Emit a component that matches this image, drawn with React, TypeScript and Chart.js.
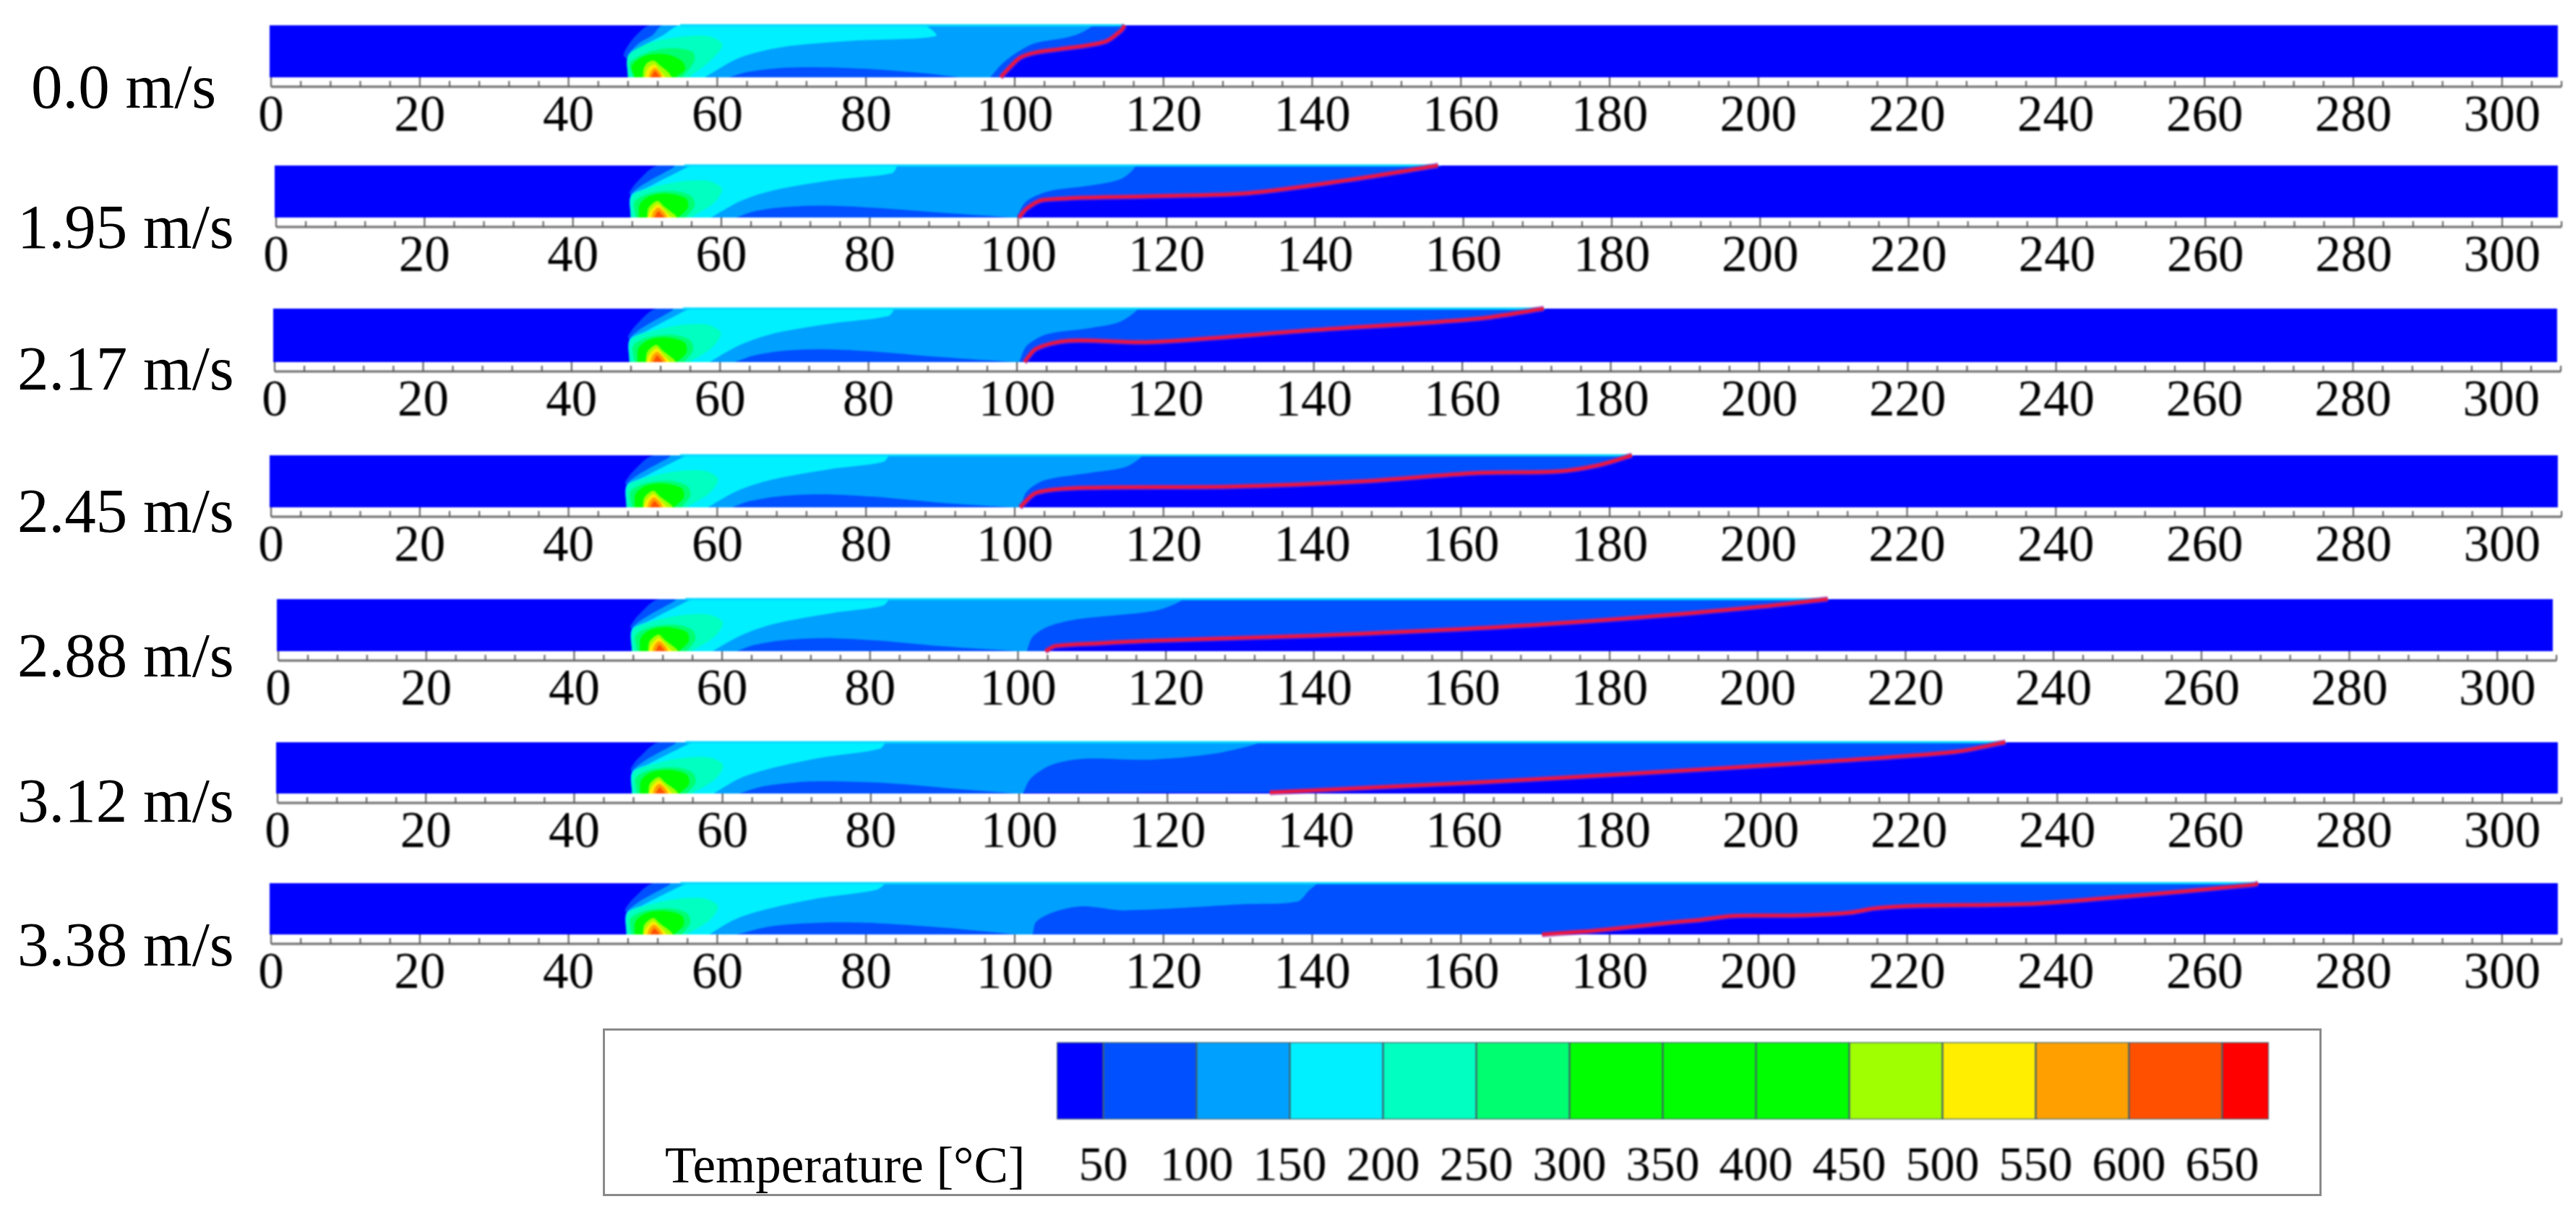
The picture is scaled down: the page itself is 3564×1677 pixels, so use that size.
import React, { useEffect, useRef } from "react";
import { Chart, registerables } from "chart.js";

Chart.register(...registerables);

type P = [number, number];

const speedLabels = ["0.0 m/s", "1.95 m/s", "2.17 m/s", "2.45 m/s", "2.88 m/s", "3.12 m/s", "3.38 m/s"];
const xTickLabels = [0, 20, 40, 60, 80, 100, 120, 140, 160, 180, 200, 220, 240, 260, 280, 300];
const xMinorStep = 4;
const xEnd = 308;
const fieldEnd = 307.5;

const colorBlue0 = "#0000ff";
const colorBlue1 = "#0050ff";
const colorBlue2 = "#00a0ff";
const colorCyan = "#00f0ff";
const colorTeal = "#00ffc0";
const colorMint = "#00ff70";
const colorGreen = "#00ff00";
const colorLime = "#a0ff00";
const colorYellow = "#ffee00";
const colorOrange = "#ffa000";
const colorDeep = "#ff5000";
const colorRed = "#ff0000";

// --- 0.0 m/s contours
const calmBand50: P[] = [[48, 0], [48, 0.33], [47.4, 0.42], [48, 0.61], [49.1, 0.81], [51, 1]];
const calmBand100: P[] = [[48, 0], [48, 0.4], [49.4, 0.65], [51.3, 0.81], [52.7, 1]];
const calmBand150: P[] = [[48, 0], [48, 0.42], [49.9, 0.6], [52.7, 0.81], [55, 1]];
const calmTeal: P[] = [[48, 0], [48, 0.4], [50.3, 0.63], [54.6, 0.77], [58.8, 0.79], [60.7, 0.63], [59.3, 0.35], [56.2, 0]];
const calmMint: P[] = [[48.7, 0], [48.2, 0.26], [49.1, 0.375], [51.3, 0.51], [54.1, 0.56], [56.7, 0.49], [56.9, 0.31], [55.3, 0]];
const calmGreen: P[] = [[48.9, 0], [48.5, 0.21], [49.4, 0.35], [51, 0.44], [53.2, 0.44], [55.2, 0.32], [55.7, 0.16], [54.4, 0]];
const calmLime: P[] = [[50, 0], [50.1, 0.16], [50.6, 0.28], [51.5, 0.32], [52.3, 0.23], [53.4, 0.1], [53.9, 0]];
const calmYellow: P[] = [[50.3, 0], [50.6, 0.16], [51.5, 0.25], [52.1, 0.16], [53.1, 0]];
const calmOrange: P[] = [[50.8, 0], [51, 0.1], [51.6, 0.18], [52.3, 0.1], [52.6, 0]];
const calmDeep: P[] = [[51.1, 0], [51.6, 0.12], [52.1, 0.05], [52.3, 0]];

// --- contours near the source shared by the panels with flow
const flowBand50: P[] = [[47.8, 0], [47.8, 0.415], [47.6, 0.48], [48.8, 0.71], [51.6, 1]];
const flowBand100: P[] = [[47.8, 0], [47.8, 0.415], [49.3, 0.62], [53.5, 0.96], [53.8, 1]];
const flowBand150: P[] = [[47.8, 0], [47.8, 0.415], [50, 0.575], [53.5, 0.83], [56.4, 1]];
const flowTeal: P[] = [[47.8, 0], [48, 0.415], [50.7, 0.575], [54.5, 0.69], [58.3, 0.7], [60.1, 0.55], [59, 0.28], [55.9, 0]];
const flowMint: P[] = [[48.5, 0], [48.3, 0.3], [50.2, 0.46], [53.5, 0.51], [55.9, 0.415], [56.4, 0.23], [55.2, 0]];
const flowGreen: P[] = [[48.9, 0], [49, 0.255], [50.4, 0.415], [52.8, 0.46], [55.2, 0.37], [55.5, 0.19], [54.2, 0]];
const flowLime: P[] = [[50, 0], [50.2, 0.19], [51.4, 0.32], [52.3, 0.21], [53.8, 0.05], [54, 0]];
const flowYellow: P[] = [[50.1, 0], [50.4, 0.12], [51.4, 0.255], [52.3, 0.14], [53.3, 0]];
const flowOrange: P[] = [[50.6, 0], [50.9, 0.12], [51.5, 0.19], [52.3, 0.1], [52.7, 0]];
const flowDeep: P[] = [[51, 0], [51.5, 0.12], [52.1, 0.04], [52.3, 0]];

// --- flame front (red line) per panel
const front0: P[] = [[98.1, 0], [99.3, 0.19], [100.7, 0.375], [102.6, 0.47], [105.9, 0.54], [109.6, 0.61], [112.4, 0.7], [114.3, 0.9], [114.8, 1]];
const front1: P[] = [[100.1, 0], [101.2, 0.18], [103.4, 0.34], [117.8, 0.41], [131, 0.47], [144.4, 0.72], [156.6, 1]];
const front2: P[] = [[101, 0], [102.6, 0.25], [106.9, 0.4], [118, 0.375], [140, 0.6], [162, 0.81], [171, 1]];
const front3: P[] = [[100.7, 0], [102.9, 0.28], [109, 0.375], [129, 0.4], [146.6, 0.5], [162, 0.66], [173, 0.69], [178.5, 0.81], [183, 1]];
const front4: P[] = [[103.7, 0], [105.1, 0.1], [110.8, 0.15], [118, 0.2], [140, 0.3], [162, 0.44], [184, 0.65], [200, 0.85], [209.5, 1]];
const front5: P[] = [[133.8, 0.02], [161.9, 0.22], [184, 0.4], [206, 0.6], [226, 0.81], [233, 1]];
const front6: P[] = [[170.9, 0], [176.3, 0.055], [179.7, 0.1], [183.7, 0.16], [187.9, 0.23], [192.4, 0.29], [196.3, 0.36], [200.2, 0.37], [204.4, 0.37], [208.6, 0.39], [212.5, 0.43], [215.7, 0.51], [221.4, 0.56], [236.9, 0.6], [250, 0.75], [266.7, 0.97], [267.2, 1]];

// --- edge of the 100-150 band per panel (bottom to top)
const edge100_0: P[] = [[96.7, 0], [98.3, 0.26], [100.2, 0.47], [102.6, 0.65], [106.3, 0.745], [108.7, 0.84], [110.3, 1]];
const edge100_1: P[] = [[99.8, 0], [101, 0.3], [104, 0.5], [110, 0.62], [114, 0.75], [115.6, 1]];
const edge100_2: P[] = [[100.3, 0], [101.3, 0.3], [104, 0.52], [110, 0.64], [114, 0.76], [116, 1]];
const edge100_3: P[] = [[100.8, 0], [101.6, 0.3], [104, 0.52], [110, 0.66], [115, 0.78], [116.9, 1]];
const edge100_4: P[] = [[101.2, 0], [102, 0.28], [104.2, 0.48], [108.4, 0.62], [118.7, 0.78], [122, 1]];
const edge100_5: P[] = [[100.5, 0], [101.6, 0.3], [104.4, 0.56], [108.8, 0.68], [117.6, 0.66], [126.5, 0.78], [132, 1]];
const edge100_6: P[] = [[102.4, 0], [102.9, 0.25], [105.5, 0.45], [109.2, 0.55], [114.8, 0.47], [131, 0.59], [138, 0.64], [139.5, 0.85], [140.5, 1]];

// --- edge of the 150-200 band per panel (bottom to top)
const edge150_0: P[] = [[58.3, 0], [63, 0.375], [68.7, 0.58], [78.1, 0.7], [89.4, 0.79], [87.7, 1]];
const edge150_1: P[] = [[58.6, 0], [62.8, 0.33], [67.6, 0.54], [75, 0.72], [83, 0.85], [83.5, 1]];
const edge150_2: P[] = [[58.6, 0], [62.7, 0.32], [67.4, 0.54], [75, 0.72], [82.7, 0.86], [83.3, 1]];
const edge150_3: P[] = [[58.7, 0], [62.6, 0.31], [67.3, 0.53], [75, 0.73], [82.3, 0.87], [82.9, 1]];
const edge150_4: P[] = [[58.7, 0], [62.5, 0.3], [67.2, 0.53], [74.8, 0.73], [81.7, 0.87], [82.4, 1]];
const edge150_5: P[] = [[58.8, 0], [62.4, 0.3], [66.5, 0.49], [73.8, 0.71], [81.2, 0.87], [81.8, 1]];
const edge150_6: P[] = [[58.9, 0], [62.3, 0.29], [66, 0.47], [73.4, 0.7], [81.4, 0.87], [82.4, 1]];

// --- low-temperature pocket under the plume per panel
const pocket0: P[] = [[61.6, 0], [64, 0.1], [68.7, 0.18], [73.4, 0.195], [80.4, 0.16], [87.5, 0.085], [92.7, 0]];
const pocket1: P[] = [[62, 0], [64.5, 0.12], [68.5, 0.2], [74, 0.23], [81.4, 0.18], [90, 0.09], [99.4, 0]];
const pocket2: P[] = [[62, 0], [64.5, 0.12], [68.5, 0.21], [74, 0.24], [81.4, 0.19], [90, 0.09], [99.6, 0]];
const pocket3: P[] = [[62, 0], [64.4, 0.12], [68.2, 0.21], [74, 0.25], [81.4, 0.2], [89.6, 0.095], [99.7, 0]];
const pocket4: P[] = [[62, 0], [64.4, 0.12], [68.2, 0.21], [73.9, 0.25], [81.4, 0.2], [89.5, 0.096], [99, 0.01], [99.7, 0]];
const pocket5: P[] = [[62.2, 0], [65.5, 0.14], [70, 0.22], [74, 0.24], [81.4, 0.21], [90, 0.11], [99.8, 0]];
const pocket6: P[] = [[62.6, 0], [67.2, 0.16], [74, 0.23], [81.5, 0.22], [90.7, 0.13], [98.7, 0.02], [100, 0]];

const legendBounds = [25, 50, 100, 150, 200, 250, 300, 350, 400, 450, 500, 550, 600, 650, 675];
const legendColors = [colorBlue0, colorBlue1, colorBlue2, colorCyan, colorTeal, colorMint, colorGreen, colorGreen, colorGreen, colorLime, colorYellow, colorOrange, colorDeep, colorRed];
const legendTicks = [50, 100, 150, 200, 250, 300, 350, 400, 450, 500, 550, 600, 650];
const legendTitle = "Temperature [°C]";

// Layout only: [left, top, bottom, axisEnd, labelBaseline, labelLeft]
const panelBoxes = [
  [373, 35, 107, 3551, 149, 43],
  [380, 229, 301, 3544, 343, 24],
  [378, 427, 501, 3543, 539, 24],
  [373, 630, 702, 3552, 736, 24],
  [383, 829, 901, 3537, 936, 24],
  [382, 1027, 1098, 3545, 1137, 24],
  [373, 1222, 1293, 3553, 1336, 24],
];

const fronts = [front0, front1, front2, front3, front4, front5, front6];
const edges100 = [edge100_0, edge100_1, edge100_2, edge100_3, edge100_4, edge100_5, edge100_6];
const edges150 = [edge150_0, edge150_1, edge150_2, edge150_3, edge150_4, edge150_5, edge150_6];
const pockets = [pocket0, pocket1, pocket2, pocket3, pocket4, pocket5, pocket6];

const SERIF = '"Liberation Serif", serif';

function area(points: P[], color: string, tension = 0.3) {
  return {
    data: points.map(([x, y]) => ({ x, y })),
    backgroundColor: color,
    borderColor: color,
    borderWidth: 0,
    fill: "shape",
    pointRadius: 0,
    tension,
  };
}

function stroke(points: P[], color: string, width: number) {
  return {
    data: points.map(([x, y]) => ({ x, y })),
    borderColor: color,
    backgroundColor: color,
    borderWidth: width,
    fill: false,
    pointRadius: 0,
    tension: 0.3,
    clip: 6,
  };
}

function panelDatasets(i: number) {
  const calm = i === 0;
  const front = fronts[i];
  const rev = (a: P[]) => [...a].reverse();
  const layers = [
    area([[-1, 0], [-1, 1], [fieldEnd, 1], [fieldEnd, 0]], colorBlue0, 0),
    area([...(calm ? calmBand50 : flowBand50), ...rev(front)], colorBlue1),
    area([...(calm ? calmBand100 : flowBand100), ...rev(edges100[i])], colorBlue2),
    area(pockets[i], colorBlue1),
    area([...(calm ? calmBand150 : flowBand150), ...rev(edges150[i])], colorCyan),
    area(calm ? calmTeal : flowTeal, colorTeal),
    area(calm ? calmMint : flowMint, colorMint),
    area(calm ? calmGreen : flowGreen, colorGreen),
    area(calm ? calmLime : flowLime, colorLime),
    area(calm ? calmYellow : flowYellow, colorYellow),
    area(calm ? calmOrange : flowOrange, colorOrange),
    area(calm ? calmDeep : flowDeep, colorDeep),
    stroke([[55, 1], [front[front.length - 1][0], 1]], "#00d8ff", 3),
    stroke(front, "rgba(150,40,170,0.65)", 8),
    stroke(front, "#f0143c", 4),
  ];
  return layers.map((d, k) => ({ ...d, order: layers.length - k }));
}

const rulerPlugin = {
  id: "ruler",
  afterDraw(chart: any) {
    const { ctx, chartArea } = chart;
    const scale = chart.scales.x;
    const line = chartArea.bottom + 13;
    ctx.save();
    ctx.strokeStyle = "#6a6a6a";
    ctx.lineWidth = 3;
    ctx.beginPath();
    ctx.moveTo(scale.getPixelForValue(0), line);
    ctx.lineTo(scale.getPixelForValue(xEnd), line);
    ctx.stroke();
    ctx.lineWidth = 2;
    ctx.strokeStyle = "#555";
    for (const t of scale.ticks) {
      const major = xTickLabels.includes(t.value);
      const px = scale.getPixelForValue(t.value);
      ctx.beginPath();
      ctx.moveTo(px, line);
      ctx.lineTo(px, major ? chartArea.bottom : line - 8);
      ctx.stroke();
    }
    ctx.restore();
  },
};

function Panel({ index }: { index: number }) {
  const ref = useRef<HTMLCanvasElement>(null);
  const [left, top, bottom, axisEnd] = panelBoxes[index];
  const padTop = 10;
  const below = 94;
  const height = bottom - top + padTop + below;
  useEffect(() => {
    const ticks: { value: number }[] = [];
    for (let v = 0; v <= xEnd; v += xMinorStep) ticks.push({ value: v });
    const chart = new Chart(ref.current as any, {
      type: "line",
      data: { datasets: panelDatasets(index) as any },
      plugins: [rulerPlugin],
      options: {
        animation: false,
        responsive: false,
        events: [],
        layout: { padding: { left, right: 3564 - axisEnd, top: padTop, bottom: 0 } },
        plugins: { legend: { display: false }, tooltip: { enabled: false } },
        scales: {
          x: {
            type: "linear",
            min: -0.2,
            max: xEnd,
            grid: { display: false, drawTicks: false },
            border: { display: false },
            afterBuildTicks: (axis: any) => { axis.ticks = ticks.map((t) => ({ ...t })); },
            afterFit: (axis: any) => { axis.height = below; },
            ticks: {
              autoSkip: false,
              maxRotation: 0,
              padding: 20,
              color: "#000",
              font: { family: SERIF, size: 71, lineHeight: 1 },
              callback: (v: any) => (xTickLabels.includes(Number(v)) ? String(v) : ""),
            },
          },
          y: { type: "linear", display: false, min: 0, max: 1 },
        },
      } as any,
    });
    return () => chart.destroy();
  }, []);
  return (
    <canvas
      ref={ref}
      width={3564}
      height={height}
      style={{ position: "absolute", left: 0, top: top - padTop, width: 3564, height, filter: "blur(0.9px)" }}
    />
  );
}

function ColorBar() {
  const ref = useRef<HTMLCanvasElement>(null);
  useEffect(() => {
    const chart = new Chart(ref.current as any, {
      type: "bar",
      data: {
        labels: [legendTitle],
        datasets: legendColors.map((c, i) => ({
          data: [[legendBounds[i], legendBounds[i + 1]]],
          backgroundColor: c,
          borderColor: "rgba(0,50,60,0.75)",
          borderWidth: 1.5,
          borderSkipped: false,
          barPercentage: 1,
          categoryPercentage: 1,
          grouped: false,
        })) as any,
      },
      options: {
        animation: false,
        responsive: false,
        events: [],
        indexAxis: "y",
        layout: { padding: { left: 28, right: 41, top: 16, bottom: 0 } },
        plugins: { legend: { display: false }, tooltip: { enabled: false } },
        scales: {
          x: {
            type: "linear",
            min: legendBounds[0],
            max: legendBounds[legendBounds.length - 1],
            grid: { display: false, drawTicks: false },
            border: { display: false },
            afterBuildTicks: (axis: any) => { axis.ticks = legendTicks.map((value) => ({ value })); },
            afterFit: (axis: any) => { axis.height = 100; },
            ticks: {
              autoSkip: false,
              maxRotation: 0,
              padding: 32,
              color: "#000",
              font: { family: SERIF, size: 68, lineHeight: 1 },
            },
          },
          y: { type: "category", display: false },
        },
      } as any,
    });
    return () => chart.destroy();
  }, []);
  return (
    <canvas
      ref={ref}
      width={1746}
      height={223}
      style={{ position: "absolute", left: 1434, top: 1426, width: 1746, height: 223, filter: "blur(0.9px)" }}
    />
  );
}

export default function App() {
  return (
    <div style={{ position: "absolute", left: 0, top: 0, width: 3564, height: 1677, background: "#fff", overflow: "hidden" }}>
      {speedLabels.map((s, i) => (
        <div
          key={s}
          style={{
            position: "absolute",
            left: panelBoxes[i][5],
            top: panelBoxes[i][4] - 72,
            font: `87px/86px ${SERIF}`,
            color: "#000",
            whiteSpace: "nowrap",
            filter: "blur(0.6px)",
          }}
        >
          {s}
        </div>
      ))}
      {speedLabels.map((s, i) => <Panel key={s} index={i} />)}
      <div
        style={{
          position: "absolute",
          left: 834,
          top: 1423,
          width: 2372,
          height: 226,
          border: "3px solid #8a8a8a",
          boxSizing: "content-box",
        }}
      />
      <ColorBar />
      <div
        style={{
          position: "absolute",
          left: 920,
          top: 1577,
          font: `71px/71px ${SERIF}`,
          color: "#000",
          whiteSpace: "nowrap",
          filter: "blur(0.6px)",
        }}
      >
        {legendTitle}
      </div>
    </div>
  );
}
